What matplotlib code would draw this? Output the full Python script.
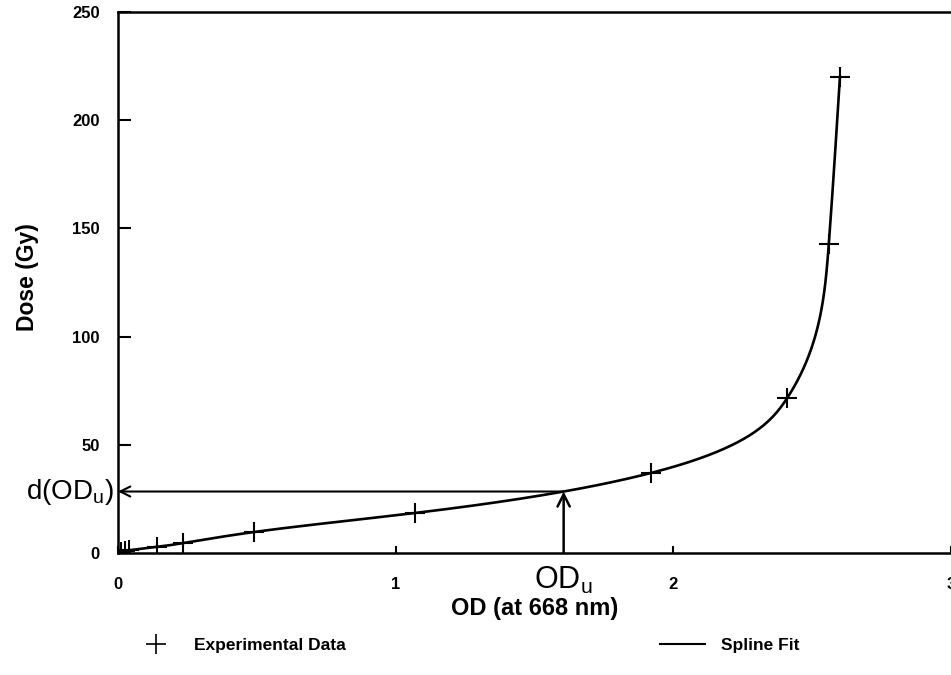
import numpy as np
import matplotlib

matplotlib.use("Agg")
import matplotlib.pyplot as plt
from matplotlib.lines import Line2D

od_data = [0.0, 0.012, 0.024, 0.038, 0.14, 0.235, 0.49, 1.07, 1.92, 2.41, 2.56, 2.60]
dose_data = [0.3, 0.6, 0.9, 1.2, 2.8, 4.6, 9.7, 18.5, 37.0, 71.6, 143.0, 220.0]
od_u = 1.605

x_ticks = [0, 1, 2, 3]
y_ticks = [0, 50, 100, 150, 200, 250]


def natural_spline(x, y, xs):
    # natural cubic spline through (x, y), evaluated at xs
    x = np.asarray(x, float)
    y = np.asarray(y, float)
    n = len(x)
    h = np.diff(x)
    A = np.zeros((n, n))
    b = np.zeros(n)
    A[0, 0] = A[-1, -1] = 1.0
    for i in range(1, n - 1):
        A[i, i - 1] = h[i - 1]
        A[i, i] = 2 * (h[i - 1] + h[i])
        A[i, i + 1] = h[i]
        b[i] = 6 * ((y[i + 1] - y[i]) / h[i] - (y[i] - y[i - 1]) / h[i - 1])
    M = np.linalg.solve(A, b)
    idx = np.clip(np.searchsorted(x, xs) - 1, 0, n - 2)
    t0 = x[idx + 1] - xs
    t1 = xs - x[idx]
    hi = h[idx]
    return (M[idx] * t0**3 / (6 * hi) + M[idx + 1] * t1**3 / (6 * hi)
            + (y[idx] / hi - M[idx] * hi / 6) * t0
            + (y[idx + 1] / hi - M[idx + 1] * hi / 6) * t1)


# spline fit: OD as a function of dose
fit_dose = np.linspace(dose_data[3], dose_data[-1], 1000)
fit_od = natural_spline(dose_data, od_data, fit_dose)
dose_u = float(np.interp(od_u, fit_od, fit_dose))

plt.rcParams["font.family"] = ["Liberation Sans", "DejaVu Sans"]
plt.rcParams["mathtext.fontset"] = "custom"
plt.rcParams["mathtext.rm"] = "Liberation Sans"

fig = plt.figure(figsize=(9.51, 6.75), dpi=100)
ax = fig.add_axes([118 / 951, 1 - 553 / 675, (951 - 118) / 951, (553 - 12) / 675])

ax.plot(fit_od, fit_dose, color="black", lw=1.9, label="Spline Fit")
ax.plot(od_data, dose_data, ls="none", marker="+", ms=14, mew=1.5, color="black",
        label="Experimental Data")

# OD_u -> d(OD_u) construction
ax.annotate("", xy=(od_u, dose_u), xytext=(od_u, 0),
            arrowprops=dict(arrowstyle="->", color="black", lw=1.8, mutation_scale=22,
                            shrinkA=0, shrinkB=0))
ax.annotate("", xy=(0, dose_u), xytext=(od_u, dose_u),
            arrowprops=dict(arrowstyle="->", color="black", lw=1.5, mutation_scale=18,
                            shrinkA=0, shrinkB=0))

ax.set_xlim(0, 3)
ax.set_ylim(0, 250)
ax.set_xticks(x_ticks)
ax.set_yticks(y_ticks)
ax.spines["right"].set_visible(False)
for s in ["left", "bottom", "top"]:
    ax.spines[s].set_linewidth(1.8)
ax.tick_params(axis="y", direction="in", length=9, width=1.5, labelsize=12, pad=13)
ax.tick_params(axis="x", direction="in", length=5, width=1.5, labelsize=12, pad=17)
for lbl in ax.get_xticklabels() + ax.get_yticklabels():
    lbl.set_fontweight("bold")

ax.set_xlabel("OD (at 668 nm)", fontsize=17, fontweight="bold", labelpad=4)
ax.set_ylabel("Dose (Gy)", fontsize=16.5, fontweight="bold")
ax.yaxis.set_label_coords(-0.095, 0.51)

ax.text(od_u, -5.5, r"OD$_{\mathregular{u}}$", fontsize=22, ha="center", va="top")
ax.text(-0.015, dose_u, r"d(OD$_{\mathregular{u}}$)", fontsize=20, ha="right", va="center")

h_data = Line2D([], [], ls="none", marker="+", ms=14, mew=1.2, color="black")
h_fit = Line2D([], [], color="black", lw=1.5)
fig.legend([h_data, h_fit], ["Experimental Data", "Spline Fit"], ncol=2,
           loc="center left", bbox_to_anchor=(133 / 951, 1 - 645 / 675),
           frameon=False, prop={"size": 12.5, "weight": "bold"}, handlelength=2.6,
           handletextpad=0.9, columnspacing=18.1, borderpad=0, borderaxespad=0)

fig.savefig("out.png", dpi=100)
